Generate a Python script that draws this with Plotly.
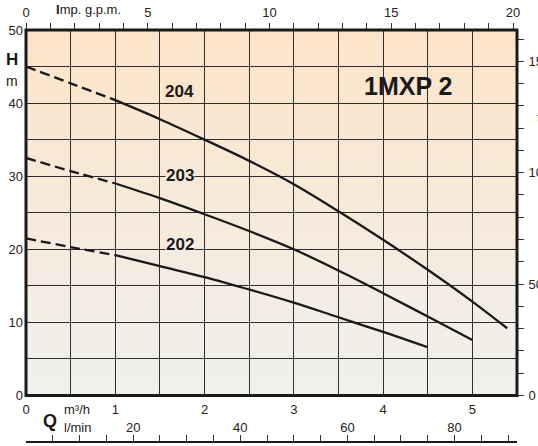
import plotly.graph_objects as go

# ---- data ----
q_204 = [0.0, 0.5, 1.0, 1.5, 2.0, 2.5, 3.0, 3.5, 4.0, 4.5, 5.0, 5.39]
h_204 = [45.0, 42.7, 40.4, 37.8, 35.0, 32.1, 28.9, 25.2, 21.3, 17.2, 12.85, 9.2]
q_203 = [0.0, 0.5, 1.0, 1.5, 2.0, 2.5, 3.0, 3.5, 4.0, 4.5, 5.0]
h_203 = [32.5, 30.7, 29.0, 27.0, 24.8, 22.5, 20.0, 17.1, 14.0, 10.8, 7.6]
q_202 = [0.0, 0.5, 1.0, 1.5, 2.0, 2.5, 3.0, 3.5, 4.0, 4.5]
h_202 = [21.5, 20.3, 19.2, 17.7, 16.2, 14.5, 12.7, 10.7, 8.7, 6.6]
dashed_until = 1.0  # m3/h, start of the recommended range

curve_names = ["204", "203", "202"]
label_q = [1.72, 1.72, 1.72]
label_h = [41.6, 30.1, 20.65]
label_bg = ["#FAE3C9", "#F6E9DA", "#F4EBE2"]

model_title = "1MXP 2"

q_ticks = [0, 0.5, 1, 1.5, 2, 2.5, 3, 3.5, 4, 4.5, 5, 5.5]
q_ticktext = ["0", "", "1", "", "2", "", "3", "", "4", "", "5", ""]
h_ticks = [0, 5, 10, 15, 20, 25, 30, 35, 40, 45, 50]
h_ticktext = ["0", "", "10", "", "20", "", "30", "", "40", "", "50"]
gpm_ticks = list(range(0, 21))
gpm_ticktext = [str(v) if v % 5 == 0 else "" for v in gpm_ticks]
lmin_ticks = list(range(0, 95, 5))
lmin_ticktext = [str(v) if v % 20 == 0 and v <= 80 else "" for v in lmin_ticks]
ft_ticks = list(range(0, 170, 10))
ft_ticktext = [str(v) if v % 50 == 0 else "" for v in ft_ticks]

Q_MAX = 5.5
H_MAX = 50
GPM_PER_M3H = 1 / 0.272765
LMIN_PER_M3H = 1000 / 60
FT_PER_M = 3.28084

FONT = "Liberation Sans, Arial, sans-serif"
INK = "#1a1a1a"

W, H = 538, 446
L, R, T, B = 26, 21, 30, 0


def px_x(px):
    return (px - L) / (W - L - R)


def px_y(py):
    return (H - B - py) / (H - T - B)


fig = go.Figure()

for q, h in [(q_204, h_204), (q_203, h_203), (q_202, h_202)]:
    qd = [x for x in q if x <= dashed_until]
    hd = h[:len(qd)]
    qs = q[len(qd) - 1:]
    hs = h[len(qd) - 1:]
    fig.add_trace(go.Scatter(x=qd, y=hd, mode="lines",
                             line=dict(color=INK, width=2.3, dash="10px,5px", shape="spline"),
                             hoverinfo="skip", showlegend=False))
    fig.add_trace(go.Scatter(x=qs, y=hs, mode="lines", line=dict(color=INK, width=2.3, shape="spline"),
                             hoverinfo="skip", showlegend=False))

# invisible traces to activate the extra axes
fig.add_trace(go.Scatter(x=[0, Q_MAX * GPM_PER_M3H], y=[0, 0], xaxis="x2", yaxis="y", mode="none",
                         showlegend=False, hoverinfo="skip"))
fig.add_trace(go.Scatter(x=[0, Q_MAX * LMIN_PER_M3H], y=[0, 0], xaxis="x3", yaxis="y", mode="none",
                         showlegend=False, hoverinfo="skip"))
fig.add_trace(go.Scatter(x=[0, Q_MAX], y=[0, H_MAX * FT_PER_M], xaxis="x", yaxis="y2", mode="none",
                         showlegend=False, hoverinfo="skip"))

# gradient background (bands below gridlines)
top_c = (253, 228, 200)
bot_c = (240, 240, 238)
n = 100
shapes = []
for i in range(n):
    t = (i + 0.5) / n
    c = tuple(round(bot_c[k] + (top_c[k] - bot_c[k]) * t) for k in range(3))
    shapes.append(dict(type="rect", xref="x domain", yref="y domain", x0=0, x1=1,
                       y0=i / n, y1=min(1, (i + 1) / n + 0.004), line=dict(width=0),
                       fillcolor="rgb(%d,%d,%d)" % c, layer="below"))
shapes.append(dict(type="rect", xref="x domain", yref="y domain", x0=0, x1=1, y0=0, y1=1,
                   line=dict(color=INK, width=3), layer="above"))

annotations = []
for name, xq, yh, bg in zip(curve_names, label_q, label_h, label_bg):
    annotations.append(dict(x=xq, y=yh, xref="x", yref="y", text="<b>%s</b>" % name, showarrow=False,
                            xanchor="center", yanchor="middle",
                            font=dict(family=FONT, size=17, color=INK), bgcolor=bg, borderpad=0))
annotations.append(dict(x=4.28, y=42.4, xref="x", yref="y", text="<b>%s</b>" % model_title, showarrow=False,
                        xanchor="center", yanchor="middle", font=dict(family=FONT, size=25, color=INK)))


def paper_note(px, py, text, size, anchor="center"):
    return dict(x=px_x(px), y=px_y(py), xref="paper", yref="paper", text=text, showarrow=False,
                xanchor=anchor, yanchor="middle", font=dict(family=FONT, size=size, color=INK))


annotations += [
    paper_note(12, 60, "<b>H</b>", 17),
    paper_note(12, 81, "m", 14),
    paper_note(54, 10, "<b>I</b>mp. g.p.m.", 13, "left"),
    paper_note(50, 421, "<b>Q</b>", 18),
    paper_note(62, 409, "m\u00b3/h", 13, "left"),
    paper_note(62, 427, "l/min", 13, "left"),
    paper_note(535, 117, "ft", 13, "left"),
]

plot_h = H - T - B
y_bottom_px = 395.5
y_dom0 = 1 - (y_bottom_px - T) / plot_h
lmin_pos = 1 - (442 - T) / plot_h

tickfont = dict(family=FONT, size=13, color="#222")

fig.update_layout(
    width=W, height=H,
    margin=dict(l=L, r=R, t=T, b=B, autoexpand=False),
    paper_bgcolor="white", plot_bgcolor="rgba(0,0,0,0)",
    showlegend=False,
    shapes=shapes, annotations=annotations,
    xaxis=dict(range=[0, Q_MAX], tickvals=q_ticks, ticktext=q_ticktext, showgrid=True,
               gridcolor="#2e2e2e", gridwidth=1, zeroline=False, showline=False, ticks="",
               tickfont=tickfont, ticklabelstandoff=4, fixedrange=True),
    yaxis=dict(range=[0, H_MAX], domain=[y_dom0, 1], tickvals=h_ticks, ticktext=h_ticktext, showgrid=True,
               gridcolor="#2e2e2e", gridwidth=1, zeroline=False, showline=False, ticks="",
               tickfont=tickfont, ticklabelstandoff=2, fixedrange=True),
    xaxis2=dict(range=[0, Q_MAX * GPM_PER_M3H], overlaying="x", side="top", anchor="y",
                tickvals=gpm_ticks, ticktext=gpm_ticktext, ticks="outside", ticklen=6, tickwidth=1,
                tickcolor="#333", showgrid=False, zeroline=False, showline=False, tickfont=tickfont,
                ticklabelstandoff=1, fixedrange=True),
    xaxis3=dict(range=[0, Q_MAX * LMIN_PER_M3H], overlaying="x", side="bottom", anchor="free",
                position=lmin_pos, tickvals=lmin_ticks, ticktext=lmin_ticktext, ticks="inside",
                ticklen=6, tickwidth=1, tickcolor="#333", showline=True, linecolor=INK, linewidth=2,
                showgrid=False, zeroline=False, ticklabelposition="inside", tickfont=tickfont,
                fixedrange=True),
    yaxis2=dict(range=[0, H_MAX * FT_PER_M], overlaying="y", side="right", anchor="x",
                tickvals=ft_ticks, ticktext=ft_ticktext, ticks="outside", ticklen=6, tickwidth=1,
                tickcolor="#333", showgrid=False, zeroline=False, showline=False, tickfont=tickfont,
                ticklabelstandoff=2, fixedrange=True),
)

fig.write_html("out.html", config={"displayModeBar": False},
               post_script="document.body.style.margin='0';document.body.style.overflow='hidden';")
